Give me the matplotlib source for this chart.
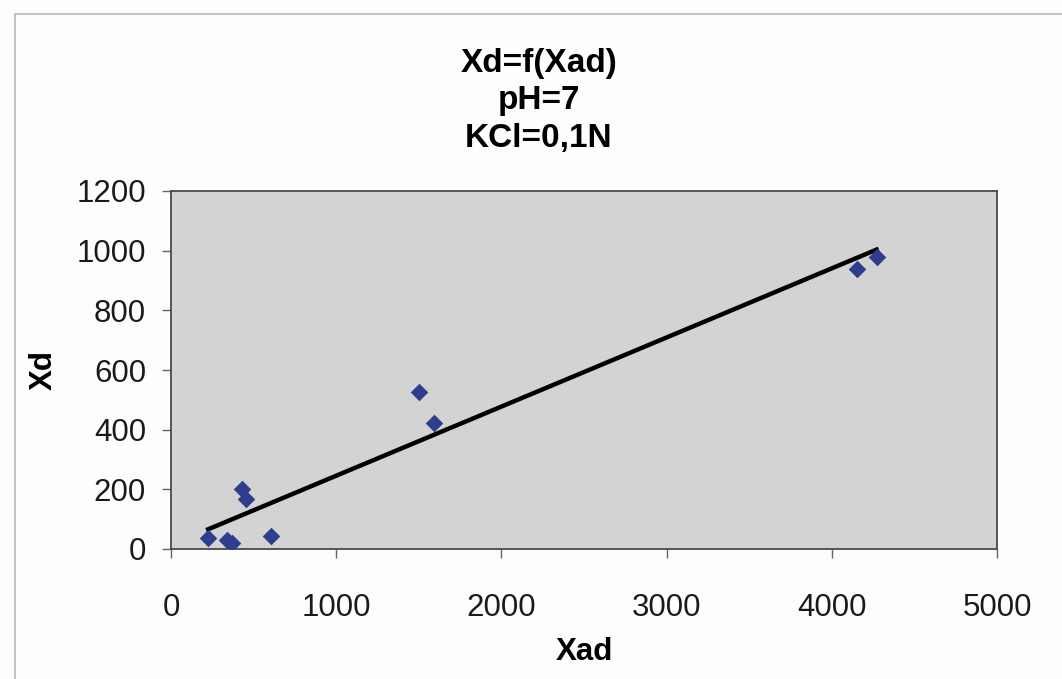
import numpy as np
import matplotlib.pyplot as plt
from matplotlib.patches import Rectangle

# values
xad = [225, 340, 370, 431, 455, 607, 1500, 1590, 4150, 4271]
xd = [37, 30, 20, 200, 168, 44, 527, 423, 940, 980]

title_lines = ["Xd=f(Xad)", "pH=7", "KCl=0,1N"]
x_ticks = [0, 1000, 2000, 3000, 4000, 5000]
y_ticks = [0, 200, 400, 600, 800, 1000, 1200]

plt.rcParams['font.family'] = ['Liberation Sans', 'DejaVu Sans']

fig = plt.figure(figsize=(10.62, 6.79), dpi=100)
fig.patch.set_facecolor('#fdfdfd')

# chart area border like the excel frame
fig.patches.append(Rectangle((15 / 1062, -0.05), 1.1, 1 - 14 / 679 + 0.05,
                             transform=fig.transFigure, fill=False,
                             edgecolor='#b8b8b8', linewidth=1.2))

ax = fig.add_axes([171 / 1062, 1 - 549 / 679, (997 - 171) / 1062, (549 - 191) / 679])
ax.set_facecolor('#d3d3d3')

ax.scatter(xad, xd, marker='D', s=80, color='#2f3d8f', zorder=3, linewidths=0)

# linear trendline
k, b = np.polyfit(xad, xd, 1)
xs = np.array([min(xad), max(xad)])
ax.plot(xs, k * xs + b, color='black', linewidth=3.2, zorder=2)

ax.set_xlim(0, 5000)
ax.set_ylim(0, 1200)
ax.set_xticks(x_ticks)
ax.set_yticks(y_ticks)
ax.tick_params(axis='both', direction='out', length=6.5, width=1, color='#666666',
               labelsize=22.5, labelcolor='#1a1a1a')
ax.tick_params(axis='x', pad=25)
ax.tick_params(axis='y', pad=11.5)
for s in ax.spines.values():
    s.set_color('#4a4a4a')
    s.set_linewidth(1.3)

ax.set_xlabel('Xad', fontsize=22.5, fontweight='bold', labelpad=10)
ax.set_ylabel('Xd', fontsize=22.5, fontweight='bold', labelpad=13)

fig.text(539 / 1062, 1 - 101 / 679, "\n".join(title_lines), ha='center', va='center',
         fontsize=24, fontweight='bold', linespacing=1.27)

fig.savefig('out.png', dpi=100, facecolor=fig.get_facecolor())
